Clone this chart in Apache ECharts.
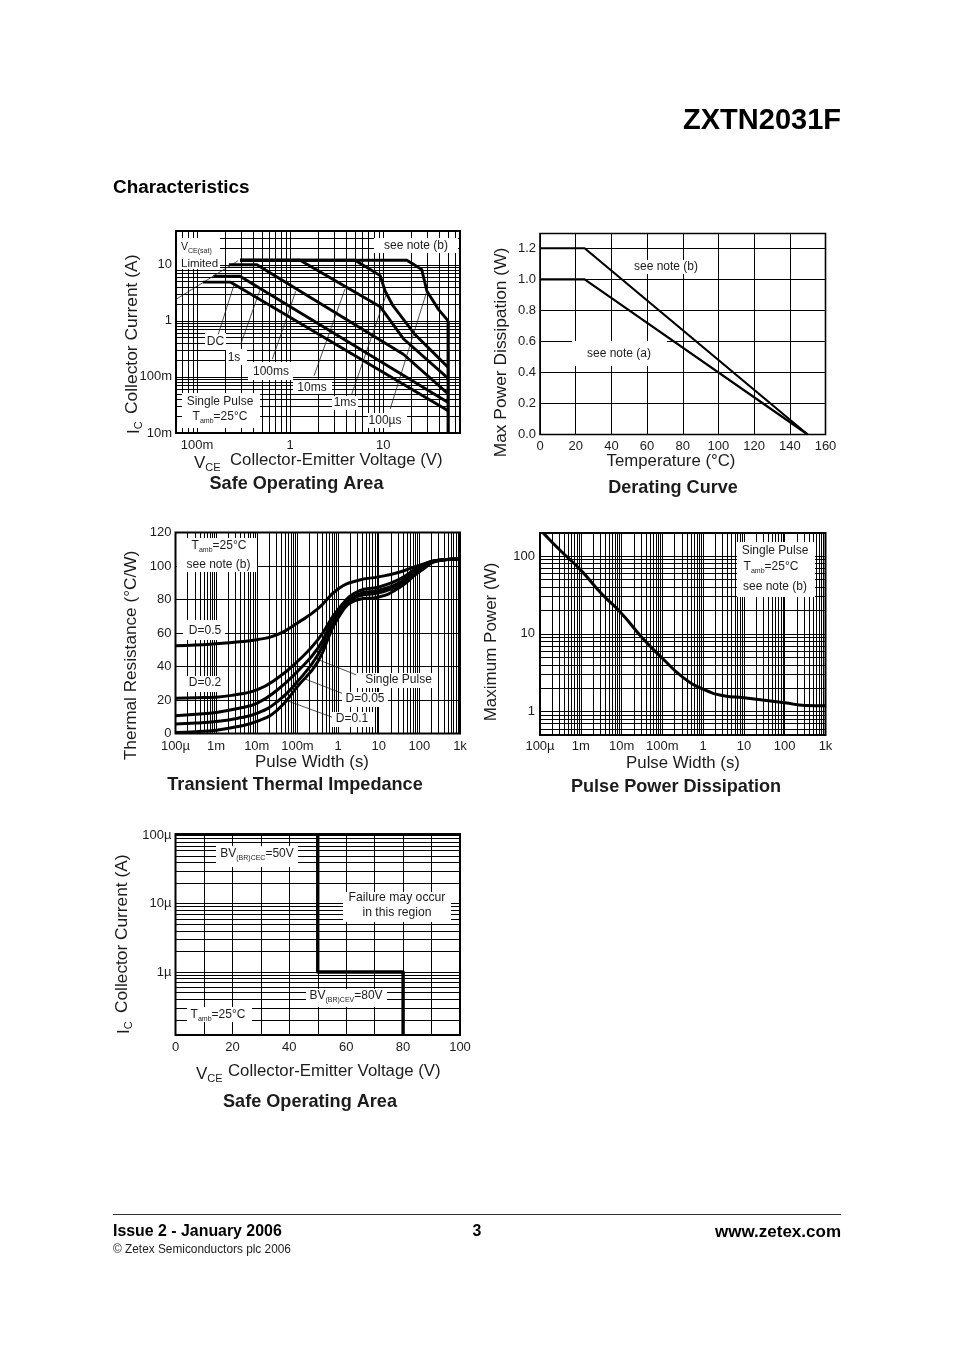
<!DOCTYPE html>
<html>
<head>
<meta charset="utf-8">
<style>html,body{margin:0;padding:0;background:#fff}#main{width:954px;height:1351px}</style>
<script src="https://cdn.jsdelivr.net/npm/echarts@6/dist/echarts.min.js"></script>
</head>
<body>
<div id="main"></div>
<script>
// soa chart, VCE / IC pairs
var soaDc = [[0.116,4.9],[0.23,4.9],[50,0.025]];
var soa1s = [[0.15,6.25],[0.29,6.25],[50,0.035]];
var soa100ms = [[0.22,10],[0.44,10],[16.5,0.254],[50,0.05]];
var soa10ms = [[0.29,12],[1.28,12],[9.3,1.79],[16.5,0.48],[50,0.094]];
var soa1ms = [[0.29,12],[5,12],[9.3,6.4],[10.5,3.4],[12.7,1.88],[22,0.57],[50,0.148]];
var soa100us = [[0.29,12],[18,12],[26,8.2],[29.5,3.4],[39.3,1.6],[50,1]];
var soaEdge = [[50,1],[50,0.01]];
var soaLimit = [[0.0594,2.42],[0.276,11.8]];
var soaLeaders = [
	[[0.25,4.45],[0.169,0.575]],
	[[0.476,3.6],[0.295,0.383]],
	[[1.15,3.38],[0.645,0.207]],
	[[3.9,3.73],[1.81,0.105]],
	[[10.8,2.96],[4.6,0.0495]],
	[[29.5,3.38],[11.9,0.0268]]
];
var soaXTicks = [0.1,1,10];
var soaXLabels = ['100m','1','10'];
var soaYTicks = [0.01,0.1,1,10];
var soaYLabels = ['10m','100m','1','10'];

// derating
var deratingB = [[0,1.2],[25,1.2],[150,0]];
var deratingA = [[0,1],[25,1],[150,0]];
var deratingYTicks = [0,0.2,0.4,0.6,0.8,1,1.2];

// transient thermal impedance, read every half decade
var pulseTicks = [1e-4,1e-3,1e-2,0.1,1,10,100,1000];
var pulseLabels = ['100µ','1m','10m','100m','1','10','100','1k'];
var zthTimes = [1e-4,3.2e-4,1e-3,3.2e-3,0.01,0.032,0.1,0.32,1,3.2,10,32,100,320,1000];
var zthD05 = [52.4,52.8,53.6,54.6,56,59,66,74.5,86.3,91.5,93.5,96.3,100.4,103.6,104.2];
var zthD02 = [21.1,21.4,21.7,23.3,26,33,43,56,74,85,87.5,92,99.5,103.6,104.2];
var zthD01 = [10.6,11.5,12.6,14.8,18,26,37,51,72,83,85.5,90,98.5,103.5,104.2];
var zthD005 = [5.6,6.2,7.2,9,12,19,31,47,71,82,84,88.5,97.5,103.4,104.2];
var zthSingle = [0.6,1.1,2,4,7.2,14,28,43,69,80,81.5,87,96.5,103.3,104.2];
var zthLeaders = [
	[[0.33,44],[2.8,35]],
	[[0.156,32.5],[1.25,24]],
	[[0.05,20],[0.71,9.8]]
];

// pulse power
var powerCurve = [[1.18e-4,200],[3.2e-4,117],[1e-3,66],[3.2e-3,33],[0.01,18.3],[0.032,8.9],[0.1,4.85],[0.32,2.75],[1,1.94],[3.2,1.6],[10,1.51],[32,1.4],[100,1.3],[320,1.2],[1000,1.19]];
var powerYTicks = [1,10,100];
var powerYLabels = ['1','10','100'];

// breakdown soa
var bvCurve = [[50,1e-4],[50,1e-6],[80,1e-6],[80,1.2e-7]];
var bvYTicks = [1e-6,1e-5,1e-4];
var bvYLabels = ['1µ','10µ','100µ'];
var bvXTicks = [0,20,40,60,80,100];

var FONT = '"Liberation Sans",Arial,sans-serif';
var INK = '#1c1c1c';

// 2..9 times each decade, plus the decade itself
function logGrid(lo,hi){
	var out = [];
	for(var k=Math.floor(Math.log10(lo));k<=Math.ceil(Math.log10(hi));k++){
		for(var m=1;m<10;m++){
			var v = m*Math.pow(10,k);
			if(v>=lo*0.999 && v<=hi*1.001) out.push(v);
		}
	}
	return out;
}

function logAxis(idx,lo,hi,ticks,labels,margin){
	return {
		type:'log',gridIndex:idx,min:lo,max:hi,
		axisLine:{show:false},
		axisTick:{show:false,customValues:logGrid(lo,hi)},
		splitLine:{show:true,lineStyle:{color:'#000',width:1}},
		minorSplitLine:{show:false},
		axisLabel:{
			customValues:ticks,margin:margin,fontSize:13,color:INK,fontFamily:FONT,
			formatter:function(v){
				for(var i=0;i<ticks.length;i++){
					if(Math.abs(Math.log10(v)-Math.log10(ticks[i]))<0.01) return labels[i];
				}
				return '';
			}
		}
	};
}
function valAxis(idx,lo,hi,grid,labelTicks,digits,margin){
	return {
		type:'value',gridIndex:idx,min:lo,max:hi,
		axisLine:{show:false},
		axisTick:{show:false,customValues:grid},
		splitLine:{show:true,lineStyle:{color:'#000',width:1}},
		axisLabel:{
			customValues:labelTicks,margin:margin,fontSize:13,color:INK,fontFamily:FONT,
			formatter:function(v){return v.toFixed(digits);}
		}
	};
}
function curve(idx,data,width){
	return {
		type:'line',xAxisIndex:idx,yAxisIndex:idx,data:data,z:4,
		showSymbol:false,silent:true,
		lineStyle:{color:'#000',width:width||2.9,join:'round'}
	};
}
function smoothCurve(idx,xs,ys){
	var s = curve(idx,xs.map(function(x,i){return [x,ys[i]];}),3);
	s.smooth = 0.5;
	return s;
}
function leader(idx,data){
	return {
		type:'line',xAxisIndex:idx,yAxisIndex:idx,data:data,z:3,
		showSymbol:false,silent:true,
		lineStyle:{color:'#222',width:0.8}
	};
}

function rich(size){
	return {
		m:{fontSize:size,lineHeight:size+4,fontFamily:FONT,fill:INK,color:INK},
		s:{fontSize:Math.round(size*0.62),lineHeight:Math.round(size*0.62)+1,fontFamily:FONT,verticalAlign:'bottom',color:INK}
	};
}
// text on the page, {m|..}{s|..} gives the subscripts
function txt(x,y,str,size,o){
	o = o||{};
	return {
		type:'text',x:x,y:y,z:2,rotation:o.rot?Math.PI/2:0,silent:true,
		style:{
			text:str,x:0,y:0,align:o.align||'center',verticalAlign:'middle',
			fontFamily:FONT,fontSize:size,fontWeight:o.bold?'bold':'normal',
			fill:o.color||INK,rich:rich(size)
		}
	};
}
function mask(x,y,w,h){
	return {type:'rect',z:1,silent:true,shape:{x:x,y:y,width:w,height:h},style:{fill:'#fff'}};
}

var grids = [
	{left:176,top:231,width:284,height:202},
	{left:540,top:233.5,width:285.5,height:201},
	{left:175.5,top:532.5,width:284.5,height:201},
	{left:540,top:533,width:285.5,height:202},
	{left:175.5,top:834,width:284.5,height:201}
].map(function(g){
	g.show = true; g.borderColor = '#000'; g.borderWidth = 2; g.containLabel = false;
	return g;
});
grids[1].borderWidth = 1.6;

var xAxes = [
	logAxis(0,0.0594,67,soaXTicks,soaXLabels,6),
	valAxis(1,0,160,[0,20,40,60,80,100,120,140,160],[0,20,40,60,80,100,120,140,160],0,5),
	logAxis(2,1e-4,1000,pulseTicks,pulseLabels,6),
	logAxis(3,1e-4,1000,pulseTicks,pulseLabels,5),
	valAxis(4,0,100,[0,10,20,30,40,50,60,70,80,90,100],bvXTicks,0,6)
];
var yAxes = [
	logAxis(0,0.01,40,soaYTicks,soaYLabels,4),
	valAxis(1,0,1.295,deratingYTicks,deratingYTicks,1,4),
	valAxis(2,0,120,[0,20,40,60,80,100,120],[0,20,40,60,80,100,120],0,4),
	logAxis(3,0.5,198,powerYTicks,powerYLabels,5),
	logAxis(4,1.2e-7,1.04e-4,bvYTicks,bvYLabels,4)
];

var series = [
	curve(0,soaDc),curve(0,soa1s),curve(0,soa100ms),curve(0,soa10ms),curve(0,soa1ms),curve(0,soa100us),
	curve(0,soaEdge,3.2),
	leader(0,soaLimit),
	curve(1,deratingB,2.2),curve(1,deratingA,2.2),
	smoothCurve(2,zthTimes,zthD05),smoothCurve(2,zthTimes,zthD02),smoothCurve(2,zthTimes,zthD01),
	smoothCurve(2,zthTimes,zthD005),smoothCurve(2,zthTimes,zthSingle),
	curve(4,bvCurve,3.4)
];
soaLeaders.forEach(function(d){series.push(leader(0,d));});
zthLeaders.forEach(function(d){series.push(leader(2,d));});
var powerSeries = curve(3,powerCurve,3);
powerSeries.smooth = 0.5;
series.push(powerSeries);

var page = [
	txt(841,121,'ZXTN2031F',29,{bold:true,align:'right',color:'#000'}),
	txt(113,188,'Characteristics',18.9,{bold:true,align:'left',color:'#000'}),
	// footer
	{type:'line',z:1,silent:true,shape:{x1:113,y1:1214.5,x2:841,y2:1214.5},style:{stroke:'#333',lineWidth:1}},
	txt(113,1232,'Issue 2 - January 2006',15.9,{bold:true,align:'left',color:'#000'}),
	txt(477,1232,'3',15.9,{bold:true,color:'#000'}),
	txt(841,1232,'www.zetex.com',17,{bold:true,align:'right',color:'#000'}),
	txt(113,1250,'© Zetex Semiconductors plc 2006',11.85,{align:'left'}),

	// safe operating area
	txt(132,414,'Collector Current (A)',17.4,{rot:true,align:'left'}),
	txt(134,434,'{m|I}{s|C}',17,{rot:true,align:'left'}),
	txt(194,463,'{m|V}{s|CE}',17,{align:'left'}),
	txt(230,460,'Collector-Emitter Voltage (V)',16.8,{align:'left'}),
	txt(296.5,484,'Safe Operating Area',18.1,{bold:true}),
	mask(177,238,43,31),
	txt(181,247,'{m|V}{s|CE(sat)}',10.5,{align:'left'}),
	txt(181,264,'Limited',11.5,{align:'left'}),
	mask(374,238,84,15),
	txt(416,246,'see note (b)',12),
	mask(205,333,21,17),txt(215.5,342,'DC',12),
	mask(226,349,21,16),txt(234,358,'1s',12),
	mask(248,362,45,18),txt(271,372,'100ms',12),
	mask(293,380,39,14),txt(312,387.5,'10ms',12),
	mask(332,396,26,14),txt(345,403,'1ms',12),
	mask(368,413,39,15),txt(385,421,'100µs',12),
	mask(182,393,78,35),
	txt(220,402,'Single Pulse',12),
	txt(220,417,'{m|T}{s|amb}{m|=25°C}',12),

	// derating
	txt(501,352.5,'Max Power Dissipation (W)',17.4,{rot:true}),
	txt(671,461,'Temperature (°C)',16.8),
	txt(673,488,'Derating Curve',18.1,{bold:true}),
	mask(628,260,75,14),txt(666,266.5,'see note (b)',12),
	mask(572,341,95,25),txt(619,354,'see note (a)',12),

	// transient thermal impedance
	txt(131,655.5,'Thermal Resistance (°C/W)',17.2,{rot:true}),
	txt(312,762,'Pulse Width (s)',16.8),
	txt(295,785,'Transient Thermal Impedance',18.1,{bold:true}),
	mask(177,538,80,34),
	txt(219,546,'{m|T}{s|amb}{m|=25°C}',12),
	txt(218.5,565,'see note (b)',12),
	mask(183,620,42,20),txt(205,631,'D=0.5',12),
	mask(183,676,42,16),txt(205,683,'D=0.2',12),
	mask(357,673,81,15),txt(398.5,680,'Single Pulse',12),
	mask(342,692,46,15),txt(365,699,'D=0.05',12),
	mask(332,712,41,15),txt(352,719,'D=0.1',12),

	// pulse power
	txt(491,642,'Maximum Power (W)',17,{rot:true}),
	txt(683,763,'Pulse Width (s)',16.8),
	txt(676,787,'Pulse Power Dissipation',18.1,{bold:true}),
	mask(737,542,78,55),
	txt(775,551,'Single Pulse',12),
	txt(771,567,'{m|T}{s|amb}{m|=25°C}',12),
	txt(775,587,'see note (b)',12),

	// breakdown soa
	txt(122,1013,'Collector Current (A)',17.3,{rot:true,align:'left'}),
	txt(124,1034,'{m|I}{s|C}',17,{rot:true,align:'left'}),
	txt(196,1074,'{m|V}{s|CE}',17,{align:'left'}),
	txt(228,1071,'Collector-Emitter Voltage (V)',16.8,{align:'left'}),
	txt(310,1102,'Safe Operating Area',18.1,{bold:true}),
	mask(216,846,82,21),txt(257,854,'{m|BV}{s|(BR)CEC}{m|=50V}',12),
	mask(343,892,108,30),
	txt(397,898,'Failure may occur',12.2),
	txt(397,913,'in this region',12.2),
	mask(306,989,81,18),txt(346,996,'{m|BV}{s|(BR)CEV}{m|=80V}',12),
	mask(187,1007,65,15),txt(218,1015,'{m|T}{s|amb}{m|=25°C}',12)
];

var myChart = echarts.init(document.getElementById('main'));
myChart.setOption({
	backgroundColor:'#fff',
	animation:false,
	grid:grids,
	xAxis:xAxes,
	yAxis:yAxes,
	series:series,
	graphic:{elements:page}
});
</script>
</body>
</html>
